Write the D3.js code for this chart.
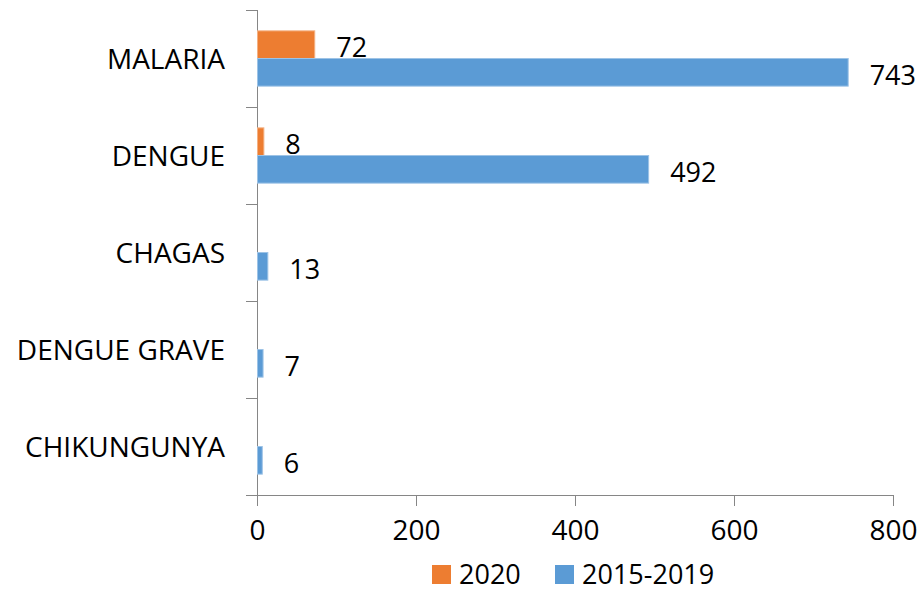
<!DOCTYPE html>
<html>
<head>
<meta charset="utf-8">
<script src="https://cdn.jsdelivr.net/npm/d3@7"></script>
<style>
  body { margin: 0; background: #fff; }
  text { font-family: "Open Sans", sans-serif; fill: #000; }
</style>
</head>
<body>
<div id="chart"></div>
<script>
const categories = ['MALARIA', 'DENGUE', 'CHAGAS', 'DENGUE GRAVE', 'CHIKUNGUNYA'];
const values2020 = [72, 8, 0, 0, 0];
const values2015 = [743, 492, 13, 7, 6];
const seriesNames = ['2020', '2015-2019'];
const xTicks = [0, 200, 400, 600, 800];

const width = 922, height = 591;
const colors = ['#ED7D31', '#5B9BD5'];

const svg = d3.select('#chart').append('svg')
    .attr('width', width)
    .attr('height', height);

const x = d3.scaleLinear().domain([0, 800]).range([257, 893]);
const y = d3.scaleBand().domain(categories).range([10, 495])
    .paddingInner(0.43).paddingOuter(0.215);
const sub = d3.scaleBand().domain(seriesNames).range([0, y.bandwidth()]);

// axes
const axisColor = '#868686';
const xAxis = svg.append('g')
    .attr('transform', 'translate(0,495)')
    .call(d3.axisBottom(x).tickValues(xTicks).tickSize(11).tickPadding(14).tickSizeOuter(0));
xAxis.select('.domain').attr('stroke', axisColor).attr('d', 'M246,0.5H893');
xAxis.selectAll('.tick line').attr('stroke', axisColor);
xAxis.selectAll('.tick text').style('font-size', '28px').attr('font-family', null);

const yAxis = svg.append('g').attr('transform', 'translate(257,0)');
yAxis.append('line')
    .attr('x1', 0.5).attr('x2', 0.5).attr('y1', 10).attr('y2', 506)
    .attr('stroke', axisColor);
const bounds = categories.map(c => y(c) - y.step() * y.paddingInner() / 2).concat([495]);
yAxis.selectAll('.ytick').data(bounds).enter().append('line')
    .attr('x1', -11).attr('x2', 0)
    .attr('y1', d => Math.round(d) + 0.5).attr('y2', d => Math.round(d) + 0.5)
    .attr('stroke', axisColor);

svg.append('g').selectAll('text').data(categories).enter().append('text')
    .attr('x', 225)
    .attr('y', d => y(d) + y.bandwidth() / 2 - 1)
    .attr('text-anchor', 'end')
    .attr('dominant-baseline', 'central')
    .style('font-size', '28px')
    .text(d => d);

// bars
const rows = categories.map((c, i) => ({ cat: c, vals: [values2020[i], values2015[i]] }));
const groups = svg.append('g').selectAll('g').data(rows).enter().append('g')
    .attr('transform', d => `translate(0,${y(d.cat)})`);

groups.selectAll('rect').data(d => d.vals.map((v, j) => ({ v, s: seriesNames[j], j })))
    .enter().append('rect')
    .attr('x', x(0) + 0.5)
    .attr('y', d => sub(d.s))
    .attr('width', d => Math.max(0, x(d.v) - x(0)))
    .attr('height', sub.bandwidth())
    .attr('fill', d => colors[d.j])
    .attr('stroke', d => d.v > 0 ? (d.j === 0 ? '#F4B183' : '#9DC3E6') : 'none')
    .attr('stroke-width', 1);

groups.selectAll('text').data(d => d.vals.map((v, j) => ({ v, s: seriesNames[j], j })).filter(d => d.v > 0))
    .enter().append('text')
    .attr('x', d => x(d.v) + 22)
    .attr('y', d => sub(d.s) + sub.bandwidth() / 2 + 2)
    .attr('dominant-baseline', 'central')
    .style('font-size', '27px')
    .text(d => d.v);

// legend
const legendX = [432, 555];
const legend = svg.append('g').selectAll('g').data(seriesNames).enter().append('g')
    .attr('transform', (d, i) => `translate(${legendX[i]},565)`);
legend.append('rect')
    .attr('width', 19).attr('height', 19)
    .attr('fill', (d, i) => colors[i]);
legend.append('text')
    .attr('x', 27).attr('y', 19)
    .style('font-size', '27px')
    .text(d => d);
</script>
</body>
</html>
